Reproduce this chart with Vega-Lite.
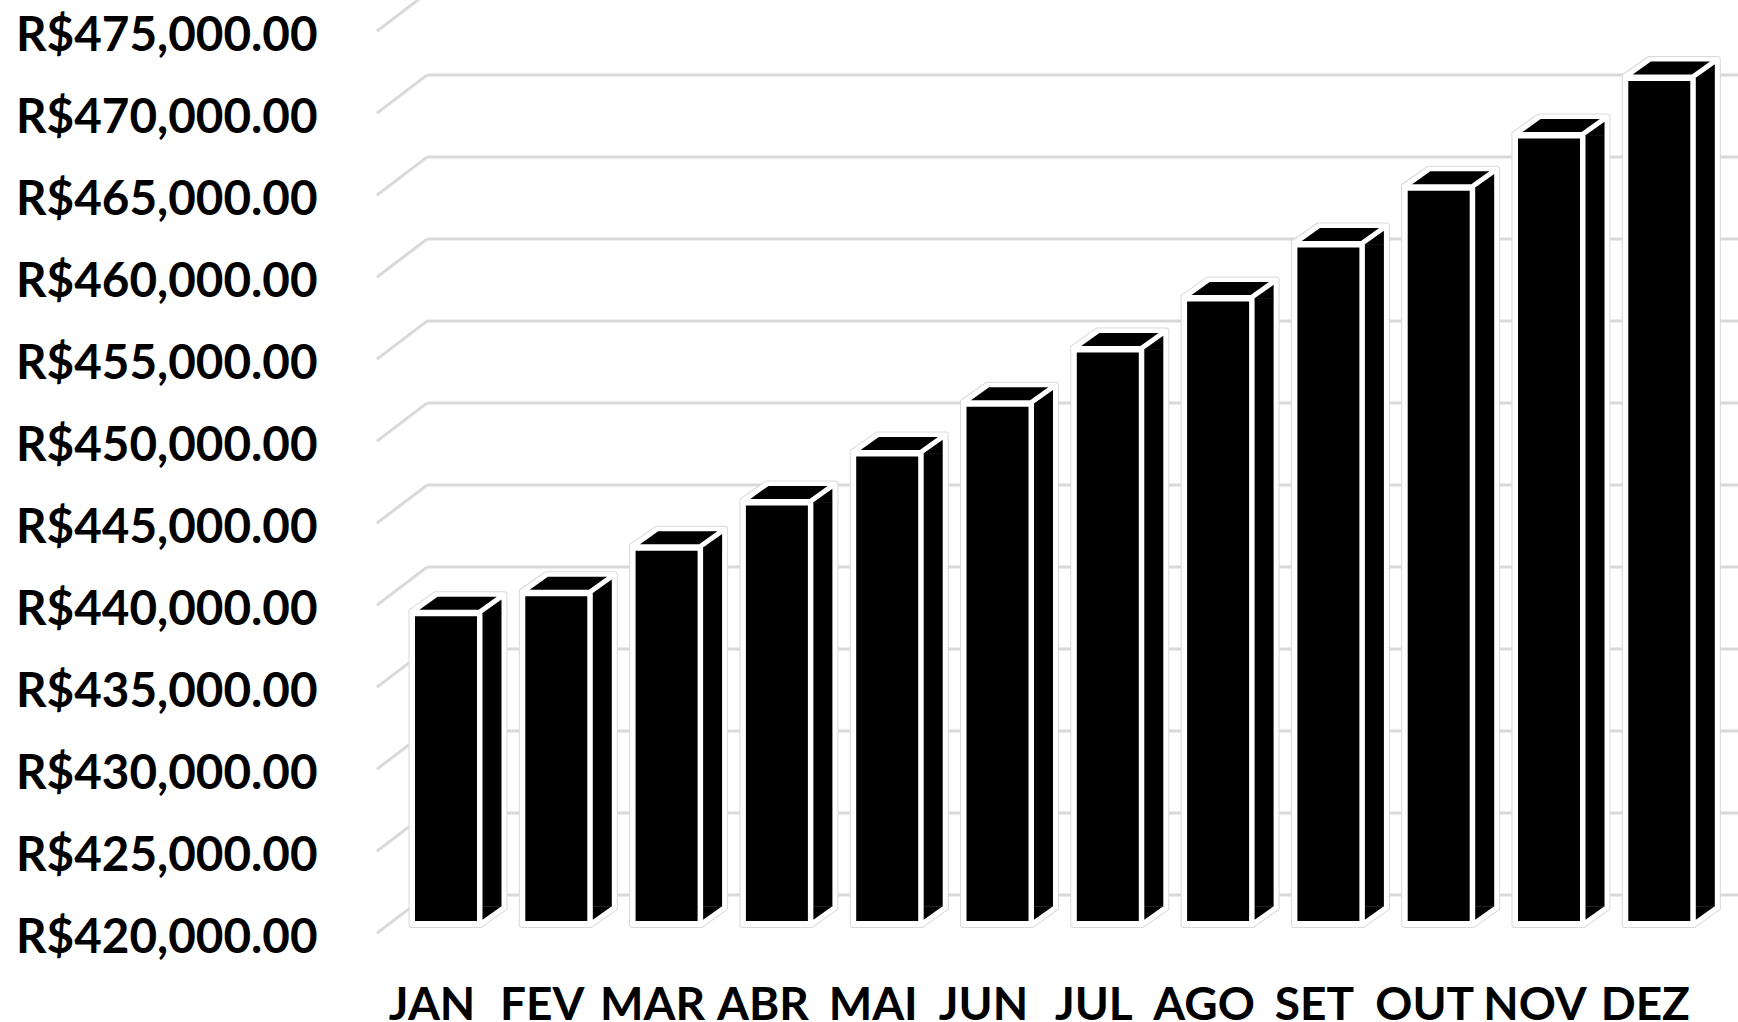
{
"$schema":"https://vega.github.io/schema/vega-lite/v6.json",
"autosize":{"type":"none"},
"padding":{"left":377,"top":0,"right":0,"bottom":47},
"width":1361,"height":975,
"background":"#ffffff",
"config":{"view":{"stroke":null}},
"datasets":{
"bars":[{"month":"JAN","value":438716},{"month":"FEV","value":439932},{"month":"MAR","value":442700},{"month":"ABR","value":445470},{"month":"MAI","value":448450},{"month":"JUN","value":451490},{"month":"JUL","value":454800},{"month":"AGO","value":457900},{"month":"SET","value":461200},{"month":"OUT","value":464660},{"month":"NOV","value":467840},{"month":"DEZ","value":471350}],
"ticks":[{"value":420000},{"value":425000},{"value":430000},{"value":435000},{"value":440000},{"value":445000},{"value":450000},{"value":455000},{"value":460000},{"value":465000},{"value":470000},{"value":475000}]
},
"encoding":{
"x":{"field":"month","type":"nominal","sort":null,"title":null,
 "scale":{"type":"band","domain":["JAN","FEV","MAR","ABR","MAI","JUN","JUL","AGO","SET","OUT","NOV","DEZ"],"range":[13.85,1337.45],"paddingInner":0,"paddingOuter":0},
 "axis":{"labelAngle":0,"labelOffset":-14,"labelOverlap":false,"labelBound":false,"labelFlush":false,"domain":false,"ticks":false,"grid":false,"labelFont":"Lato","labelFontWeight":"bold","labelFontSize":46,"labelColor":"#000000","labelPadding":8,"labelLimit":300}},
"y":{"field":"value","type":"quantitative","title":null,
 "scale":{"domain":[420000,475000],"range":[936.6,34.6],"nice":false,"zero":false},
 "axis":{"values":[420000,425000,430000,435000,440000,445000,450000,455000,460000,465000,470000,475000],"labelExpr":"'R$' + format(datum.value, ',.2f')","labelOverlap":false,"labelBound":false,"labelFlush":false,"domain":false,"ticks":false,"grid":false,"labelFont":"Lato","labelFontWeight":"bold","labelFontSize":47.6,"labelOffset":2,"labelColor":"#000000","labelPadding":60,"labelLimit":400}}
},
"layer":[
{"data":{"name":"ticks"},"mark":{"type":"rule","stroke":"#d9d9d9","strokeWidth":3,"yOffset":-41.5},"encoding":{"x":{"value":50},"x2":{"value":1361}}},
{"data":{"name":"ticks"},"mark":{"type":"point","shape":"M0 0L50 -38","size":4,"filled":false,"stroke":"#d9d9d9","strokeWidth":3,"opacity":1,"yOffset":-3.5},"encoding":{"x":{"value":0}}},

{"data":{"name":"bars"},"mark":{"type":"bar","width":68,"fill":"#d9d9d9","stroke":"#d9d9d9","strokeWidth":7,"strokeJoin":"round","yOffset":-18,"y2Offset":-12},"encoding":{"y2":{"datum":420000}}},
{"data":{"name":"bars"},"mark":{"type":"bar","width":24,"xOffset":46,"fill":"#d9d9d9","stroke":"#d9d9d9","strokeWidth":7,"strokeJoin":"round","yOffset":-18,"y2Offset":-29},"encoding":{"y2":{"datum":420000}}},
{"data":{"name":"bars"},"mark":{"type":"point","shape":"M-34 0L-10 -17L58 -17L58 0L34 0Z","size":4,"filled":true,"fill":"#d9d9d9","stroke":"#d9d9d9","strokeWidth":7,"strokeJoin":"round","opacity":1,"yOffset":-18}},
{"data":{"name":"bars"},"mark":{"type":"point","shape":"M34 0L58 -17L34 -17Z","size":4,"filled":true,"fill":"#d9d9d9","stroke":"#d9d9d9","strokeWidth":7,"strokeJoin":"round","opacity":1,"yOffset":-12},"encoding":{"y":{"datum":420000}}},

{"data":{"name":"bars"},"mark":{"type":"bar","width":68,"fill":"#ffffff","stroke":"#ffffff","strokeWidth":5,"strokeJoin":"round","yOffset":-18,"y2Offset":-12},"encoding":{"y2":{"datum":420000}}},
{"data":{"name":"bars"},"mark":{"type":"bar","width":24,"xOffset":46,"fill":"#ffffff","stroke":"#ffffff","strokeWidth":5,"strokeJoin":"round","yOffset":-18,"y2Offset":-29},"encoding":{"y2":{"datum":420000}}},
{"data":{"name":"bars"},"mark":{"type":"point","shape":"M-34 0L-10 -17L58 -17L58 0L34 0Z","size":4,"filled":true,"fill":"#ffffff","stroke":"#ffffff","strokeWidth":5,"strokeJoin":"round","opacity":1,"yOffset":-18}},
{"data":{"name":"bars"},"mark":{"type":"point","shape":"M34 0L58 -17L34 -17Z","size":4,"filled":true,"fill":"#ffffff","stroke":"#ffffff","strokeWidth":5,"strokeJoin":"round","opacity":1,"yOffset":-12},"encoding":{"y":{"datum":420000}}},

{"data":{"name":"bars"},"mark":{"type":"bar","width":62,"fill":"#000000","yOffset":-13.5,"y2Offset":-15.5},"encoding":{"y2":{"datum":420000}}},
{"data":{"name":"bars"},"mark":{"type":"bar","width":19,"xOffset":46,"fill":"#000000","yOffset":-16.7,"y2Offset":-30},"encoding":{"y2":{"datum":420000}}},
{"data":{"name":"bars"},"mark":{"type":"point","shape":"M-26.6 -2L-8.4 -15L50.8 -15L32.6 -2Z","size":4,"filled":true,"fill":"#000000","strokeWidth":0,"opacity":1,"yOffset":-18}},
{"data":{"name":"bars"},"mark":{"type":"point","shape":"M36.5 1.3L55.5 -12.2L55.5 1.8L36.5 1.8Z","size":4,"filled":true,"fill":"#000000","strokeWidth":0,"opacity":1,"yOffset":-18}},
{"data":{"name":"bars"},"mark":{"type":"point","shape":"M36.5 -4.8L55.5 -18.3L36.5 -18.3Z","size":4,"filled":true,"fill":"#000000","strokeWidth":0,"opacity":1,"yOffset":-12},"encoding":{"y":{"datum":420000}}}
]
}
